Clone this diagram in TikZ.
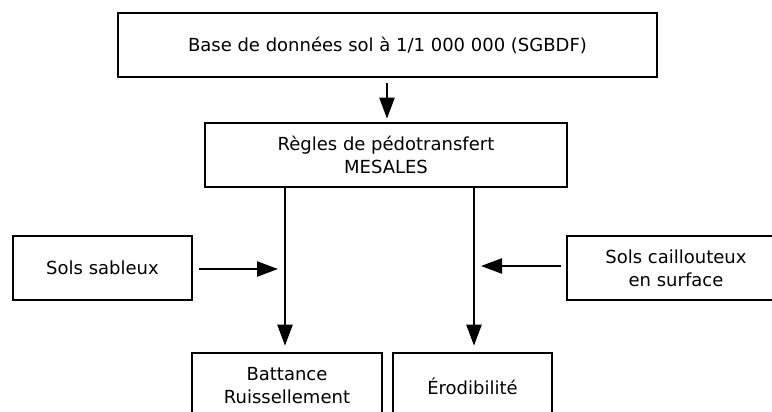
\documentclass[tikz,border=0pt]{standalone}
\usepackage{fontspec}
\setmainfont{DejaVu Sans}
\usetikzlibrary{arrows.meta}
\begin{document}
\begin{tikzpicture}[x=1pt,y=-1pt,
  box/.style={draw=black, line width=2.6pt, fill=white, align=center,
    inner sep=0pt, font=\fontsize{18}{23}\selectfont},
  flow/.style={line width=2.2pt, -{Triangle[length=21pt,width=15pt]}}]
\clip (0,0) rectangle (772,412);
\fill[white] (0,0) rectangle (772,412);

% boxes
\node[box, minimum width=539pt, minimum height=64pt] (sgbdf) at (387.5,45)
  {Base de données sol à 1/1 000 000 (SGBDF)};
\node[box, minimum width=362pt, minimum height=64pt] (rules) at (386,155)
  {Règles de pédotransfert\\MESALES};
\node[box, minimum width=179pt, minimum height=64pt] (sand) at (102.5,268)
  {Sols sableux};
\node[box, minimum width=218pt, minimum height=64pt] (stone) at (676,268)
  {Sols caillouteux\\en surface};
\node[box, minimum width=190pt, minimum height=66pt] (crust) at (287,386)
  {Battance\\Ruissellement};
\node[box, minimum width=159pt, minimum height=66pt] (erod) at (472.5,386)
  {Érodibilité};

% points where the side inputs meet the two branches
\coordinate (lhit) at (278,269);
\coordinate (rhit) at (481,266);

% connectors
\draw[flow, shorten <=5pt, shorten >=3pt] (sgbdf.south -| 387,0) -- (rules.north -| 387,0);
\draw[flow, shorten >=6pt] (rules.south -| 285,0) -- (crust.north -| 285,0);
\draw[flow, shorten >=6pt] (rules.south -| 474,0) -- (erod.north -| 474,0);
\draw[flow, shorten <=6pt] (sand.east |- lhit) -- (lhit);
\draw[flow, shorten <=5pt] (stone.west |- rhit) -- (rhit);
\end{tikzpicture}
\end{document}
